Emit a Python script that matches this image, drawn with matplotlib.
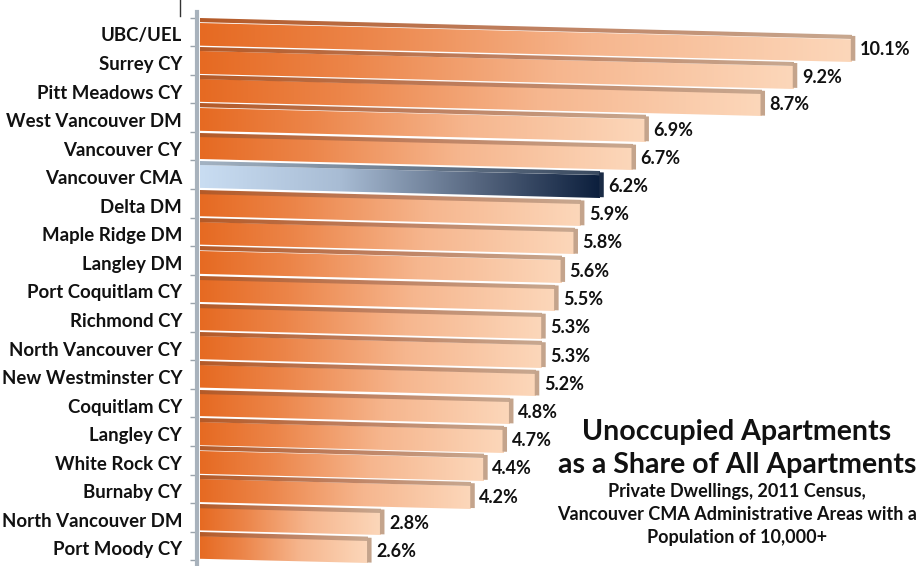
import numpy as np
import matplotlib
matplotlib.use("Agg")
import matplotlib.pyplot as plt
import matplotlib.transforms as mtransforms
from matplotlib.colors import LinearSegmentedColormap
from matplotlib.patches import Rectangle
from matplotlib.lines import Line2D

categories = ["UBC/UEL", "Surrey CY", "Pitt Meadows CY", "West Vancouver DM", "Vancouver CY",
              "Vancouver CMA", "Delta DM", "Maple Ridge DM", "Langley DM", "Port Coquitlam CY",
              "Richmond CY", "North Vancouver CY", "New Westminster CY", "Coquitlam CY",
              "Langley CY", "White Rock CY", "Burnaby CY", "North Vancouver DM", "Port Moody CY"]
values = [10.1, 9.2, 8.7, 6.9, 6.7, 6.2, 5.9, 5.8, 5.6, 5.5, 5.3, 5.3, 5.2, 4.8, 4.7, 4.4, 4.2, 2.8, 2.6]
value_labels = ["10.1%", "9.2%", "8.7%", "6.9%", "6.7%", "6.2%", "5.9%", "5.8%", "5.6%", "5.5%",
                "5.3%", "5.3%", "5.2%", "4.8%", "4.7%", "4.4%", "4.2%", "2.8%", "2.6%"]
highlight = "Vancouver CMA"
title_lines = ["Unoccupied Apartments", "as a Share of All Apartments"]
subtitle_lines = ["Private Dwellings, 2011 Census,",
                  "Vancouver CMA Administrative Areas with a",
                  "Population of 10,000+"]

plt.rcParams['font.family'] = ['Lato', 'DejaVu Sans']
plt.rcParams['font.weight'] = 'bold'

W, H = 922, 566
fig = plt.figure(figsize=(W / 100, H / 100), dpi=100)
fig.patch.set_facecolor("white")
ax_left, ax_top, ax_bottom = 200, 12, 566
ax = fig.add_axes([ax_left / W, 1 - ax_bottom / H, (W - ax_left) / W, (ax_bottom - ax_top) / H])
n = len(categories)
px_per_unit = 64.5
row_px = 28.55
xmax = (W - ax_left) / px_per_unit
ylo = -(32 - ax_top) / row_px
yhi = ylo + (ax_bottom - ax_top) / row_px

# skew so bars slope slightly downward to the right (perspective look)
k = 0.025 * px_per_unit / row_px
skew = mtransforms.Affine2D(np.array([[1, 0, 0], [k, 1, 0], [0, 0, 1]]))
tr = skew + ax.transData

orange_front = LinearSegmentedColormap.from_list(
    "of", [(0, "#E66A22"), (0.25, "#EC8549"), (0.6, "#F6B68E"), (1, "#FCD7BA")])
orange_top = LinearSegmentedColormap.from_list(
    "ot", [(0, "#B45A28"), (0.5, "#BF8060"), (1, "#C8A890")])
blue_front = LinearSegmentedColormap.from_list(
    "bf", [(0, "#C9DDF2"), (0.35, "#A8BCD4"), (0.7, "#55657E"), (1, "#0C1F3D")])
blue_top = LinearSegmentedColormap.from_list(
    "bt", [(0, "#A3B3C3"), (1, "#3A4A60")])

grad = np.linspace(0, 1, 256).reshape(1, -1)
h = 0.93
d = 0.14
ew = 0.07

for i, (cat, v, lab) in enumerate(zip(categories, values, value_labels)):
    hi = cat == highlight
    cf = blue_front if hi else orange_front
    ct = blue_top if hi else orange_top
    top = i - h / 2
    bot = i + h / 2
    ax.imshow(grad, extent=(0, v, bot, top + d), cmap=cf, aspect="auto",
              interpolation="bicubic", transform=tr, zorder=2)
    ax.imshow(grad, extent=(0, v, top + d, top), cmap=ct, aspect="auto",
              interpolation="bicubic", transform=tr, zorder=2)
    endc = "#1A2B45" if hi else "#C4A48C"
    ax.add_patch(Rectangle((v - 0.01, top + 0.03), ew, h - 0.06, facecolor=endc,
                           edgecolor="none", transform=tr, zorder=2))
    ax.text(v + ew + 0.06, i + 0.05, lab, transform=tr, ha="left", va="center",
            fontsize=13, fontweight="bold", color="#111111", zorder=3)

ax.set_xlim(0, xmax)
ax.set_ylim(yhi, ylo)
ax.set_yticks(range(n))
ax.set_yticklabels([])
ax.set_yticks(np.arange(n + 1) - 0.5, minor=True)
ax.tick_params(axis="y", which="major", length=0)
ax.tick_params(axis="y", which="minor", length=5, color="#9AA3AB", width=1, direction="out")

# category labels (slightly below row centre, like the original)
lab_tr = mtransforms.blended_transform_factory(ax.transAxes, ax.transData) + \
    mtransforms.ScaledTranslation(-18 / 100, -4 / 100, fig.dpi_scale_trans)
for i, cat in enumerate(categories):
    ax.text(0, i, cat, transform=lab_tr, ha="right", va="center", fontsize=13.4,
            fontweight="bold", color="#111111", clip_on=False)

ax.set_xticks([])
for s in ["top", "right", "bottom"]:
    ax.spines[s].set_visible(False)
ax.spines["left"].set_color("#A8B2BC")
ax.spines["left"].set_linewidth(3)
ax.spines["left"].set_position(("outward", 2))

# small vertical mark at top left
fig.add_artist(Line2D([180 / W, 180 / W], [1, 1 - 16 / H], color="#333333", lw=1))

tx = 737 / W
fig.text(tx, 1 - 432 / H, title_lines[0], ha="center", va="center", fontsize=20.5,
         fontweight="bold", color="#111111")
fig.text(tx, 1 - 465 / H, title_lines[1], ha="center", va="center", fontsize=20.5,
         fontweight="bold", color="#111111")
for s, y in zip(subtitle_lines, [492, 515, 537]):
    fig.text(tx, 1 - y / H, s, ha="center", va="center", fontsize=13,
             fontweight="bold", color="#111111")

fig.savefig("out.png", dpi=100, facecolor="white")
